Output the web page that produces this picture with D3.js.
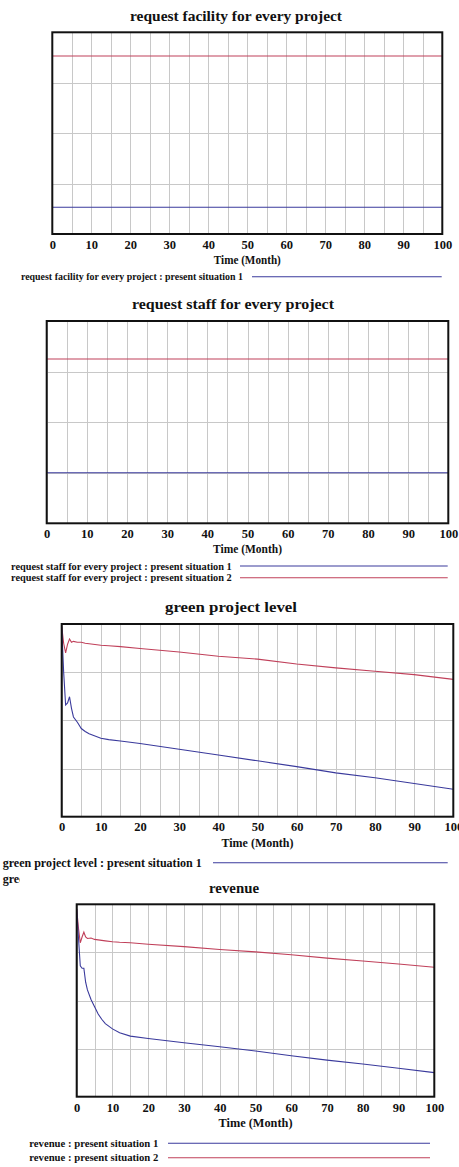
<!DOCTYPE html>
<html>
<head>
<meta charset="utf-8">
<script src="https://cdn.jsdelivr.net/npm/d3@7"></script>
<style>
body { margin: 0; background: #fff; }
svg { display: block; }
text { font-family: "Liberation Serif", "Times New Roman", serif; font-weight: bold; fill: #111; }
.grid line { stroke: #c8c8c8; stroke-width: 1; shape-rendering: crispEdges; }
.grid path { display: none; }
.frame { fill: none; stroke: #111; stroke-width: 2; }
.s1 { fill: none; stroke: #3a3a9c; stroke-width: 1.1; }
.s2 { fill: none; stroke: #c0405a; stroke-width: 1.1; }
</style>
</head>
<body>
<svg id="chart" width="459" height="1167"></svg>
<script>

// x axis (Time, Month)
var xTicks    = [0, 10, 20, 30, 40, 50, 60, 70, 80, 90, 100];
var xGrid     = [0, 5, 10, 15, 20, 25, 30, 35, 40, 45, 50, 55, 60, 65, 70, 75, 80, 85, 90, 95, 100];
var yGrid     = [1, 2, 3];   // no y labels in the picture, values read in grid units (0..4)

// flat series (start / end of run)
var flatTime      = [0, 100];
var facilityS1    = [0.53, 0.53];
var facilityS2    = [3.53, 3.53];
var staffS1       = [1.0, 1.0];
var staffS2       = [3.25, 3.25];

// curved series, sampled at these months
var curveTime = [0, 0.5, 1, 1.5, 2, 2.5, 3, 4, 5, 6, 7, 8, 10, 12, 15, 20, 30, 40, 50, 60, 70, 80, 90, 100];
var greenS1   = [3.95, 3.0, 2.32, 2.36, 2.49, 2.25, 2.07, 1.96, 1.83, 1.77, 1.72, 1.69, 1.63, 1.60, 1.57, 1.52, 1.40, 1.28, 1.16, 1.04, 0.91, 0.81, 0.69, 0.57];
var greenS2   = [3.95, 3.6, 3.40, 3.58, 3.69, 3.62, 3.64, 3.62, 3.62, 3.60, 3.59, 3.58, 3.56, 3.55, 3.53, 3.49, 3.42, 3.33, 3.27, 3.17, 3.09, 3.02, 2.95, 2.85];
var revenueS1 = [3.90, 3.3, 2.72, 2.67, 2.67, 2.38, 2.22, 2.02, 1.87, 1.72, 1.61, 1.52, 1.41, 1.33, 1.26, 1.21, 1.12, 1.04, 0.95, 0.85, 0.76, 0.68, 0.59, 0.50];
var revenueS2 = [3.90, 3.5, 3.20, 3.32, 3.42, 3.32, 3.29, 3.30, 3.27, 3.26, 3.25, 3.24, 3.22, 3.21, 3.20, 3.17, 3.12, 3.06, 3.01, 2.95, 2.88, 2.82, 2.76, 2.69];

var svg = d3.select("#chart");

var panels = [
  { id: "p1", title: "request facility for every project", titleX: 236, titleY: 15, titleW: 212,
    box: {l: 52.3, r: 442.3, t: 32.3, b: 234}, tickY: 245, axisY: 260, axisW: 67,
    time: flatTime, s1: facilityS1, s2: facilityS2,
    legend: {x: 21, w: 222, size: 10, rows: [276.7], lineX0: 252, lineX1: 441.7,
             labels: ["request facility for every project : present situation 1"]} },
  { id: "p2", title: "request staff for every project", titleX: 233, titleY: 303.3, titleW: 202,
    box: {l: 46.7, r: 448.3, t: 321, b: 523.3}, tickY: 534.3, axisY: 549.3, axisW: 69,
    time: flatTime, s1: staffS1, s2: staffS2,
    legend: {x: 11, w: 220.7, size: 10, rows: [566, 577.7], lineX0: 240, lineX1: 447.7,
             labels: ["request staff for every project : present situation 1",
                      "request staff for every project : present situation 2"]} },
  { id: "p3", title: "green project level", titleX: 231, titleY: 606.7, titleW: 132,
    box: {l: 61.7, r: 453.3, t: 624, b: 816.7}, tickY: 827.3, axisY: 842.7, axisW: 72,
    time: curveTime, s1: greenS1, s2: greenS2,
    legend: {x: 2.7, w: 199, size: 12, rows: [862.7, 879.3], lineX0: 213, lineX1: 447.7,
             labels: ["green project level : present situation 1",
                      "green project level : present situation 2"]} },
  { id: "p4", title: "revenue", titleX: 234, titleY: 887.3, titleW: 50,
    box: {l: 76.7, r: 434.3, t: 904.3, b: 1096.7}, tickY: 1107.7, axisY: 1122.7, axisW: 74,
    time: curveTime, s1: revenueS1, s2: revenueS2, cover: {x: 20, y: 870},
    legend: {x: 29.3, w: 129, size: 10.6, rows: [1143.3, 1157.7], lineX0: 168, lineX1: 430,
             labels: ["revenue : present situation 1", "revenue : present situation 2"]} }
];

panels.forEach(drawPanel);

function drawPanel(p) {
  var g = svg.append("g").attr("class", p.id);
  var b = p.box;

  // later screenshot pasted over the previous one
  if (p.cover) {
    g.append("rect").attr("x", p.cover.x).attr("y", p.cover.y)
      .attr("width", 459 - p.cover.x).attr("height", 1167 - p.cover.y).attr("fill", "#fff");
  }

  var x = d3.scaleLinear().domain([0, 100]).range([b.l, b.r]);
  var y = d3.scaleLinear().domain([0, 4]).range([b.b, b.t]);

  g.append("text")
    .attr("x", p.titleX).attr("y", p.titleY)
    .attr("text-anchor", "middle").attr("dominant-baseline", "central")
    .attr("textLength", p.titleW).attr("lengthAdjust", "spacingAndGlyphs")
    .style("font-size", "15.5px")
    .text(p.title);

  // grid
  g.append("g").attr("class", "grid")
    .attr("transform", "translate(0," + b.b + ")")
    .call(d3.axisBottom(x).tickValues(xGrid).tickSize(-(b.b - b.t)).tickFormat(""));
  g.append("g").attr("class", "grid")
    .attr("transform", "translate(" + b.l + ",0)")
    .call(d3.axisLeft(y).tickValues(yGrid).tickSize(-(b.r - b.l)).tickFormat(""));

  // series
  var clipId = "clip-" + p.id;
  g.append("clipPath").attr("id", clipId).append("rect")
    .attr("x", b.l).attr("y", b.t).attr("width", b.r - b.l).attr("height", b.b - b.t);

  var line = d3.line()
    .x(function(d){ return x(d[0]); })
    .y(function(d){ return y(d[1]); });

  var lines = g.append("g").attr("clip-path", "url(#" + clipId + ")");
  lines.append("path").attr("class", "s2")
    .attr("d", line(p.time.map(function(t, i){ return [t, p.s2[i]]; })));
  lines.append("path").attr("class", "s1")
    .attr("d", line(p.time.map(function(t, i){ return [t, p.s1[i]]; })));

  g.append("rect").attr("class", "frame")
    .attr("x", b.l).attr("y", b.t).attr("width", b.r - b.l).attr("height", b.b - b.t);

  // tick labels
  var ax = g.append("g")
    .attr("transform", "translate(0," + p.tickY + ")")
    .call(d3.axisBottom(x).tickValues(xTicks).tickSize(0).tickPadding(0));
  ax.select(".domain").remove();
  ax.selectAll("text")
    .attr("y", 0).attr("dy", null)
    .attr("dominant-baseline", "central")
    .attr("fill", "#111")
    .style("font-size", "12.5px")
    .style("font-family", "'Liberation Serif', serif")
    .style("font-weight", "bold");

  g.append("text")
    .attr("x", (b.l + b.r) / 2).attr("y", p.axisY)
    .attr("text-anchor", "middle").attr("dominant-baseline", "central")
    .attr("textLength", p.axisW).attr("lengthAdjust", "spacingAndGlyphs")
    .style("font-size", "11.5px")
    .text("Time (Month)");

  // legend
  var lg = p.legend;
  var colors = ["#3a3a9c", "#c0405a"];
  lg.rows.forEach(function(ry, i) {
    g.append("text")
      .attr("x", lg.x).attr("y", ry)
      .attr("dominant-baseline", "central")
      .attr("textLength", lg.w - (i == 1 && lg.labels[1].length != lg.labels[0].length ? 0 : 0))
      .attr("lengthAdjust", "spacingAndGlyphs")
      .style("font-size", lg.size + "px")
      .text(lg.labels[i]);
    g.append("line")
      .attr("x1", lg.lineX0).attr("x2", lg.lineX1)
      .attr("y1", ry).attr("y2", ry)
      .attr("stroke", colors[i]).attr("stroke-width", 1.1);
  });
}

</script>
</body>
</html>
